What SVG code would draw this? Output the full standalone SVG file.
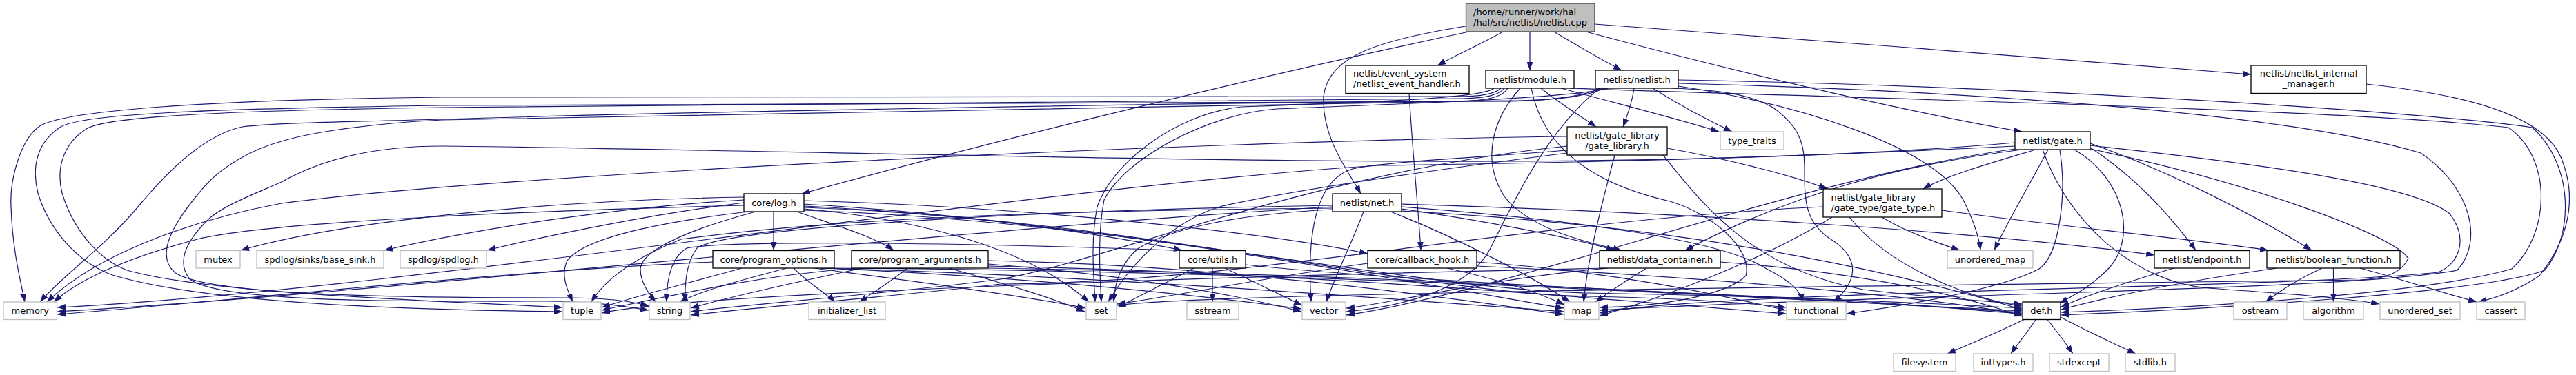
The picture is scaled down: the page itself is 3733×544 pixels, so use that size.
<svg xmlns="http://www.w3.org/2000/svg" width="3733" height="544" viewBox="0 0 3733 544">
<style>
.e{fill:none;stroke:#191970;stroke-width:1.2;marker-end:url(#ah)}
.n rect{fill:#ffffff;stroke:#000000;stroke-width:1.3}
.x rect{fill:#ffffff;stroke:#bfbfbf;stroke-width:1.3}
.r rect{fill:#bfbfbf;stroke:#404040;stroke-width:1.3}
text{font-family:"DejaVu Sans","Liberation Sans",sans-serif;font-size:13px;fill:#000000}
.c{text-anchor:middle}
</style>
<defs>
<marker id="ah" viewBox="0 0 12 9" refX="12" refY="4.5" markerWidth="12" markerHeight="9" markerUnits="userSpaceOnUse" orient="auto"><path d="M0,0 L12,4.5 L0,9 z" fill="#191970"/></marker>
</defs>
<rect x="0" y="0" width="3733" height="544" fill="#ffffff"/>
<g id="edges">
<path class="e" d="M2178,46 C2150,62 2110,80 2083,95"/>
<path class="e" d="M2217,46 C2217,66 2217,84 2217,102"/>
<path class="e" d="M2252,46 C2282,64 2320,86 2350,102"/>
<path class="e" d="M2311,35 C2600,55 3000,88 3262,108"/>
<path class="e" d="M2298,46 C2500,100 2750,160 2930,191"/>
<path class="e" d="M2129,46 C1800,115 1400,215 1162,281"/>
<path class="e" d="M2124,38 C2000,58 1925,80 1918,140 C1915,200 1955,250 1972,281"/>
<path class="e" d="M2042,135.5 C2047,220 2055,300 2059,363"/>
<path class="e" d="M2233,128 C2260,150 2290,168 2313,184"/>
<path class="e" d="M2262,128 C2350,152 2430,172 2491,191"/>
<path class="e" d="M2203,128 C2165,170 2145,230 2180,285 C2215,330 2290,350 2350,363"/>
<path class="e" d="M2275,128 C2600,140 3400,158 3635,185 C3700,230 3695,340 3640,390 C3520,425 3200,446 2987,453"/>
<path class="e" d="M2175,128 C2165,137 2145,140 2110,140 C1500,140 900,138 640,141 C300,145 100,160 59,182 C30,200 14,260 16,300 C18,360 28,400 36,438"/>
<path class="e" d="M2180,128 C2172,138 2155,142 2120,143 C1500,150 900,152 640,156 C350,160 160,168 127,186 C95,205 80,240 90,280 C105,330 140,375 184,392 C300,425 600,435 815,446"/>
<path class="e" d="M2165,128 C2150,142 2000,148 1800,155 C1700,165 1610,240 1590,300 C1580,350 1585,400 1587,438"/>
<path class="e" d="M2185,128 C2178,140 2160,145 2120,147 C1500,155 900,165 640,174 C520,180 440,195 408,205 C370,215 320,240 290,278 C250,325 225,370 253,395 C300,430 600,432 820,432 C880,432 920,438 940,444"/>
<path class="e" d="M2219,128 C2235,210 2300,265 2420,292 C2480,310 2540,360 2530,400 C2500,430 2400,445 2318,446"/>
<path class="e" d="M2368,128 C2365,150 2358,168 2352,184"/>
<path class="e" d="M2395,128 C2430,150 2470,172 2510,191"/>
<path class="e" d="M2432,116 C2900,124 3500,160 3670,185 C3730,240 3730,340 3688,392 C3600,425 3200,448 2987,457"/>
<path class="e" d="M2432,121 C2800,130 3300,160 3508,222 C3580,270 3600,350 3561,392 C3400,422 2700,428 2318,450"/>
<path class="e" d="M2425,128 C2480,130 2540,135 2575,160 C2600,180 2615,200 2615,240 C2615,290 2615,320 2650,345 C2700,375 2690,410 2657,438"/>
<path class="e" d="M2325,128 C2300,140 2250,145 2200,146 C1600,150 900,165 640,173 C500,177 400,178 351,184 C300,195 250,240 200,300 C150,360 90,400 58,438"/>
<path class="e" d="M2320,128 C2290,141 2240,146 2190,147 C1600,150 900,150 640,153 C300,158 120,165 88,184 C55,205 45,240 55,280 C70,330 110,380 163,399 C300,440 600,450 815,452"/>
<path class="e" d="M2330,128 C2280,142 2050,150 1850,158 C1750,165 1630,230 1600,290 C1590,340 1594,400 1596,438"/>
<path class="e" d="M2318,128 C2240,190 2190,300 2160,360 C2130,420 2030,445 1951,452"/>
<path class="e" d="M2432,125 C2600,150 2800,210 2845,290 C2860,320 2868,345 2870,363"/>
<path class="e" d="M3429,122 C3600,140 3690,175 3712,230 C3740,300 3712,360 3680,400 C3650,420 3620,432 3591,438"/>
<path class="e" d="M2416,215 C2500,230 2600,255 2648,274"/>
<path class="e" d="M2271,198 C1700,205 700,255 408,295 C300,315 150,360 68,438"/>
<path class="e" d="M2271,212 C1900,250 1600,380 1450,405 C1300,425 1100,440 1001,452"/>
<path class="e" d="M2271,222 C2050,250 1880,275 1771,299 C1700,320 1640,380 1606,438"/>
<path class="e" d="M2271,218 C2150,228 2000,235 1960,245 C1910,260 1893,330 1900,438"/>
<path class="e" d="M2340,225 C2320,300 2300,380 2295,438"/>
<path class="e" d="M2410,225 C2470,300 2540,390 2700,420 C2800,432 2880,437 2930,441"/>
<path class="e" d="M2950,217 C2880,238 2820,255 2787,274"/>
<path class="e" d="M2930,217 C2750,240 2600,280 2442,363"/>
<path class="e" d="M3029,214 C3100,260 3150,320 3182,363"/>
<path class="e" d="M3029,208 C3150,250 3280,320 3350,363"/>
<path class="e" d="M2968,217 C2940,270 2910,320 2890,363"/>
<path class="e" d="M3006,217 C3080,260 3100,350 3050,395 C3030,415 3005,428 2985,440"/>
<path class="e" d="M2985,217 C2995,280 2985,370 2955,390 C2900,420 2750,445 2676,455"/>
<path class="e" d="M2920,212 C2600,228 2300,236 2000,240 C1500,270 600,420 83,446"/>
<path class="e" d="M2920,207 C2700,226 2450,232 2200,234 C1700,236 1000,215 640,212 C520,212 450,240 408,264 C360,285 320,300 300,320 C270,350 255,380 275,405 C320,440 600,437 790,437 C860,437 910,445 940,450"/>
<path class="e" d="M3029,211 C3300,240 3500,270 3550,310 C3580,350 3560,385 3533,395 C3300,420 2500,420 2318,454"/>
<path class="e" d="M3029,216 C3250,262 3470,340 3490,375 C3480,395 3460,404 3420,406 C2700,415 1750,425 1619,443"/>
<path class="e" d="M2920,216 C2600,260 2200,420 1951,457"/>
<path class="e" d="M2960,217 C3000,330 3100,410 3200,418 C3300,425 3400,432 3448,441"/>
<path class="e" d="M2814,305 C3000,330 3200,350 3287,363"/>
<path class="e" d="M2727,315 C2760,335 2800,350 2840,363"/>
<path class="e" d="M2680,315 C2740,390 2860,435 2930,444"/>
<path class="e" d="M2642,300 C2200,320 1800,412 1450,412 C1300,430 1100,445 1001,457"/>
<path class="e" d="M2655,315 C2550,380 2400,435 2318,458"/>
<path class="e" d="M1121,307 C1121,330 1121,345 1121,363"/>
<path class="e" d="M1155,307 C1220,330 1270,345 1295,363"/>
<path class="e" d="M1165,296 C1400,310 1600,340 1713,363"/>
<path class="e" d="M1165,291 C1500,300 1850,340 1982,368"/>
<path class="e" d="M1078,294 C950,310 800,340 706,363"/>
<path class="e" d="M1078,290 C900,300 700,330 557,363"/>
<path class="e" d="M1078,286 C800,290 500,320 349,363"/>
<path class="e" d="M1078,298 C800,305 400,320 286,347 C200,370 120,400 78,438"/>
<path class="e" d="M1085,307 C990,318 850,340 822,378 C812,400 822,420 830,438"/>
<path class="e" d="M1095,307 C1010,330 930,360 928,390 C928,410 940,425 950,438"/>
<path class="e" d="M1165,303 C1300,315 1480,350 1578,438"/>
<path class="e" d="M1165,299 C1600,320 2100,420 2266,447"/>
<path class="e" d="M1165,305 C1650,322 2050,420 2300,425 C2600,430 2800,440 2930,447"/>
<path class="e" d="M1165,301 C1650,318 2050,425 2300,430 C2450,433 2540,440 2588,446"/>
<path class="e" d="M2031,296 C2500,310 2900,340 3122,370"/>
<path class="e" d="M2031,303 C2150,320 2280,345 2340,363"/>
<path class="e" d="M1931,300 C1400,330 500,430 83,452"/>
<path class="e" d="M1931,302 C1600,305 1250,312 987,347 C930,370 880,400 857,438"/>
<path class="e" d="M1931,298 C1500,305 1050,330 1010,360 C995,380 992,410 993,438"/>
<path class="e" d="M1931,304 C1800,310 1700,330 1650,360 C1625,380 1615,410 1614,438"/>
<path class="e" d="M1976,307 C1960,350 1935,400 1922,438"/>
<path class="e" d="M2015,307 C2100,340 2220,400 2275,438"/>
<path class="e" d="M2031,300 C2300,320 2500,350 2560,390 C2600,410 2610,425 2612,438"/>
<path class="e" d="M2031,306 C2500,330 2800,410 2930,449"/>
<path class="e" d="M1033,380 C700,395 300,440 83,456"/>
<path class="e" d="M1075,389 C1000,410 920,430 872,446"/>
<path class="e" d="M1140,389 C1080,405 1020,420 985,438"/>
<path class="e" d="M1150,389 C1170,410 1200,428 1210,438"/>
<path class="e" d="M1180,389 C1300,405 1480,428 1573,447"/>
<path class="e" d="M1195,389 C1500,402 1750,430 1886,448"/>
<path class="e" d="M1190,389 C1600,400 2100,440 2266,452"/>
<path class="e" d="M1200,389 C1900,392 2600,435 2930,451"/>
<path class="e" d="M1240,389 C1100,400 990,425 872,450"/>
<path class="e" d="M1250,389 C1150,410 1060,430 1001,447"/>
<path class="e" d="M1315,389 C1295,405 1265,425 1245,438"/>
<path class="e" d="M1375,389 C1450,410 1520,430 1572,452"/>
<path class="e" d="M1432,383 C1650,400 1800,430 1886,452"/>
<path class="e" d="M1432,378 C1800,385 2150,440 2266,456"/>
<path class="e" d="M1432,389 C2000,398 2600,432 2930,453"/>
<path class="e" d="M1432,386 C1900,395 2400,440 2588,455"/>
<path class="e" d="M1757,389 C1757,405 1757,420 1757,438"/>
<path class="e" d="M1730,389 C1690,410 1650,430 1620,446"/>
<path class="e" d="M1775,389 C1820,410 1860,430 1887,443"/>
<path class="e" d="M1712,363.5 C1400,352 1060,348 995,360 C975,372 966,400 966,438"/>
<path class="e" d="M1805,384 C1950,400 2300,420 2600,432 C2750,438 2850,450 2930,455"/>
<path class="e" d="M2097,389 C2170,405 2230,425 2267,442"/>
<path class="e" d="M2140,380 C2350,395 2500,430 2588,450"/>
<path class="e" d="M2140,386 C2450,400 2800,430 2930,457"/>
<path class="e" d="M1982,382 C1850,400 1700,430 1619,441"/>
<path class="e" d="M2386,389 C2360,405 2330,425 2312,438"/>
<path class="e" d="M2325,389 C1800,400 1000,425 872,454"/>
<path class="e" d="M2330,389 C2150,405 2020,440 1951,447"/>
<path class="e" d="M2493,380 C2700,395 2850,430 2930,459"/>
<path class="e" d="M3150,389 C3080,410 3020,430 2987,445"/>
<path class="e" d="M3300,389 C3150,410 3050,432 2987,449"/>
<path class="e" d="M3365,389 C3330,405 3300,425 3283,438"/>
<path class="e" d="M3381.5,389 C3381.5,405 3381.5,420 3381.5,438"/>
<path class="e" d="M3420,389 C3480,405 3540,425 3589,438"/>
<path class="e" d="M2933,463.5 C2900,480 2860,497 2822,513"/>
<path class="e" d="M2950,463.5 C2940,480 2925,497 2914,513"/>
<path class="e" d="M2967,463.5 C2980,480 2993,497 3004,513"/>
<path class="e" d="M2986,460 C3020,478 3060,497 3095,513"/>
</g>
<g id="node-netlist-cpp" class="r"><rect x="2124.5" y="5" width="186.5" height="41"/><text x="2135" y="21.5">/home/runner/work/hal</text><text x="2135" y="36.5">/hal/src/netlist/netlist.cpp</text></g>
<g id="node-netlist-event-handler" class="n"><rect x="1950" y="95" width="179" height="40.5"/><text x="1961" y="111">netlist/event_system</text><text x="1961" y="126">/netlist_event_handler.h</text></g>
<g id="node-module" class="n"><rect x="2153" y="102" width="128" height="26"/><text class="c" x="2217" y="119.5">netlist/module.h</text></g>
<g id="node-netlist-h" class="n"><rect x="2312" y="102" width="120" height="26"/><text class="c" x="2372" y="119.5">netlist/netlist.h</text></g>
<g id="node-internal-manager" class="n"><rect x="3262" y="95" width="167" height="40.5"/><text class="c" x="3345.5" y="111">netlist/netlist_internal</text><text class="c" x="3345.5" y="126">_manager.h</text></g>
<g id="node-gate-library" class="n"><rect x="2271" y="184" width="145" height="41"/><text class="c" x="2343.5" y="200.5">netlist/gate_library</text><text class="c" x="2343.5" y="215.5">/gate_library.h</text></g>
<g id="node-type-traits" class="x"><rect x="2493" y="191" width="92" height="26"/><text class="c" x="2539" y="208.5">type_traits</text></g>
<g id="node-gate" class="n"><rect x="2920" y="191" width="109" height="26"/><text class="c" x="2974.5" y="208.5">netlist/gate.h</text></g>
<g id="node-log" class="n"><rect x="1078" y="281" width="87" height="26"/><text class="c" x="1121.5" y="298.5">core/log.h</text></g>
<g id="node-net" class="n"><rect x="1931" y="281" width="100" height="26"/><text class="c" x="1981" y="298.5">netlist/net.h</text></g>
<g id="node-gate-type" class="n"><rect x="2642" y="274" width="172" height="41"/><text x="2653.5" y="290.5">netlist/gate_library</text><text x="2653.5" y="305.5">/gate_type/gate_type.h</text></g>
<g id="node-mutex" class="x"><rect x="284" y="363.5" width="64" height="25.5"/><text class="c" x="316" y="380.5">mutex</text></g>
<g id="node-base-sink" class="x"><rect x="372" y="363.5" width="184" height="25.5"/><text class="c" x="464" y="380.5">spdlog/sinks/base_sink.h</text></g>
<g id="node-spdlog" class="x"><rect x="580" y="363.5" width="125" height="25.5"/><text class="c" x="642.5" y="380.5">spdlog/spdlog.h</text></g>
<g id="node-program-options" class="n"><rect x="1033" y="363.5" width="176" height="25.5"/><text class="c" x="1121" y="380.5">core/program_options.h</text></g>
<g id="node-program-arguments" class="n"><rect x="1234" y="363.5" width="198" height="25.5"/><text class="c" x="1333" y="380.5">core/program_arguments.h</text></g>
<g id="node-utils" class="n"><rect x="1709" y="363.5" width="96" height="25.5"/><text class="c" x="1757" y="380.5">core/utils.h</text></g>
<g id="node-callback-hook" class="n"><rect x="1982" y="363.5" width="158" height="25.5"/><text class="c" x="2061" y="380.5">core/callback_hook.h</text></g>
<g id="node-data-container" class="n"><rect x="2318" y="363.5" width="175" height="25.5"/><text class="c" x="2405.5" y="380.5">netlist/data_container.h</text></g>
<g id="node-unordered-map" class="x"><rect x="2822" y="363.5" width="124" height="25.5"/><text class="c" x="2884" y="380.5">unordered_map</text></g>
<g id="node-endpoint" class="n"><rect x="3122" y="363.5" width="138" height="25.5"/><text class="c" x="3191" y="380.5">netlist/endpoint.h</text></g>
<g id="node-boolean-function" class="n"><rect x="3285" y="363.5" width="193" height="25.5"/><text class="c" x="3381.5" y="380.5">netlist/boolean_function.h</text></g>
<g id="node-memory" class="x"><rect x="5" y="438" width="77.5" height="25.5"/><text class="c" x="43.75" y="455">memory</text></g>
<g id="node-tuple" class="x"><rect x="816" y="438" width="55" height="25.5"/><text class="c" x="843.5" y="455">tuple</text></g>
<g id="node-string" class="x"><rect x="941" y="438" width="59" height="25.5"/><text class="c" x="970.5" y="455">string</text></g>
<g id="node-initializer-list" class="x"><rect x="1172" y="438" width="111" height="25.5"/><text class="c" x="1227.5" y="455">initializer_list</text></g>
<g id="node-set" class="x"><rect x="1574" y="438" width="44" height="25.5"/><text class="c" x="1596" y="455">set</text></g>
<g id="node-sstream" class="x"><rect x="1720" y="438" width="75" height="25.5"/><text class="c" x="1757.5" y="455">sstream</text></g>
<g id="node-vector" class="x"><rect x="1887" y="438" width="63" height="25.5"/><text class="c" x="1918.5" y="455">vector</text></g>
<g id="node-map" class="x"><rect x="2267" y="438" width="50" height="25.5"/><text class="c" x="2292" y="455">map</text></g>
<g id="node-functional" class="x"><rect x="2589" y="438" width="86" height="25.5"/><text class="c" x="2632" y="455">functional</text></g>
<g id="node-def" class="n"><rect x="2931" y="438" width="55" height="25.5"/><text class="c" x="2958.5" y="455">def.h</text></g>
<g id="node-ostream" class="x"><rect x="3237" y="438" width="77" height="25.5"/><text class="c" x="3275.5" y="455">ostream</text></g>
<g id="node-algorithm" class="x"><rect x="3338" y="438" width="87" height="25.5"/><text class="c" x="3381.5" y="455">algorithm</text></g>
<g id="node-unordered-set" class="x"><rect x="3449" y="438" width="116" height="25.5"/><text class="c" x="3507" y="455">unordered_set</text></g>
<g id="node-cassert" class="x"><rect x="3589" y="438" width="70" height="25.5"/><text class="c" x="3624" y="455">cassert</text></g>
<g id="node-filesystem" class="x"><rect x="2744" y="513" width="90" height="25.5"/><text class="c" x="2789" y="530">filesystem</text></g>
<g id="node-inttypes" class="x"><rect x="2860" y="513" width="86" height="25.5"/><text class="c" x="2903" y="530">inttypes.h</text></g>
<g id="node-stdexcept" class="x"><rect x="2970" y="513" width="86" height="25.5"/><text class="c" x="3013" y="530">stdexcept</text></g>
<g id="node-stdlib" class="x"><rect x="3080" y="513" width="72" height="25.5"/><text class="c" x="3116" y="530">stdlib.h</text></g>
</svg>
